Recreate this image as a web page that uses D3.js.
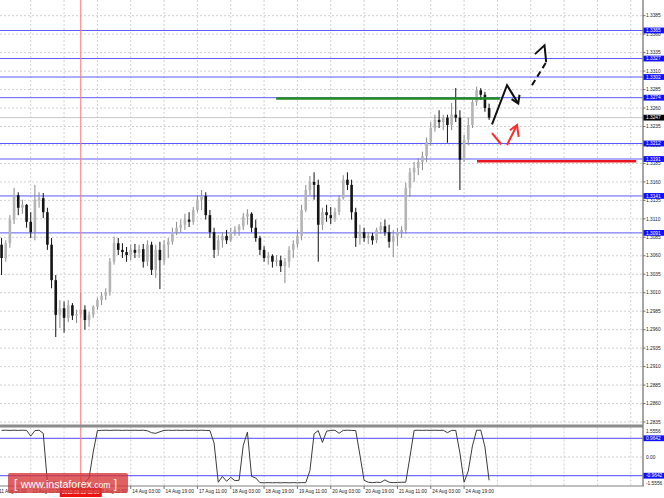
<!DOCTYPE html>
<html><head><meta charset="utf-8">
<script src="https://cdn.jsdelivr.net/npm/d3@7"></script>
<style>html,body{margin:0;padding:0;background:#fff;overflow:hidden}</style>
</head><body>
<svg id="c" width="664" height="498"></svg>
<script>
// ---- data ----
const barOpen = [1.3075,1.3057,1.3077,1.3109,1.3142,1.3125,1.3129,1.3106,1.3092,1.3136,
1.3138,1.3119,1.3075,1.3027,1.2980,1.2989,1.2976,1.2993,1.2979,1.2981,
1.2987,1.2973,1.2980,1.2991,1.3000,1.3006,1.3011,1.3052,1.3077,1.3068,
1.3065,1.3061,1.3068,1.3064,1.3069,1.3052,1.3075,1.3041,1.3068,1.3054,
1.3075,1.3079,1.3092,1.3098,1.3102,1.3109,1.3106,1.3122,1.3136,1.3141,
1.3115,1.3092,1.3068,1.3081,1.3087,1.3081,1.3092,1.3095,1.3100,1.3113,
1.3117,1.3098,1.3084,1.3068,1.3057,1.3060,1.3052,1.3054,1.3046,1.3052,
1.3068,1.3076,1.3087,1.3122,1.3149,1.3160,1.3156,1.3102,1.3119,1.3115,
1.3111,1.3119,1.3138,1.3163,1.3156,1.3119,1.3084,1.3092,1.3084,1.3087,
1.3081,1.3095,1.3100,1.3092,1.3079,1.3087,1.3092,1.3095,1.3152,1.3173,
1.3179,1.3187,1.3195,1.3214,1.3233,1.3244,1.3241,1.3247,1.3237,1.3251,
1.3247,1.3190,1.3217,1.3237,1.3268,1.3284,1.3278,1.3260];
const barHigh = [1.3084,1.3081,1.3115,1.3152,1.3146,1.3136,1.3130,1.3119,1.3156,1.3146,
1.3145,1.3125,1.3084,1.3034,1.3000,1.2998,1.3000,1.2996,1.2987,1.3010,
1.2993,1.2984,1.2993,1.3003,1.3011,1.3016,1.3057,1.3086,1.3084,1.3077,
1.3072,1.3075,1.3076,1.3075,1.3076,1.3081,1.3079,1.3075,1.3079,1.3081,
1.3084,1.3098,1.3106,1.3109,1.3117,1.3119,1.3126,1.3142,1.3149,1.3146,
1.3122,1.3098,1.3088,1.3092,1.3095,1.3098,1.3100,1.3103,1.3118,1.3123,
1.3119,1.3109,1.3087,1.3073,1.3065,1.3062,1.3061,1.3060,1.3057,1.3073,
1.3081,1.3095,1.3129,1.3156,1.3168,1.3173,1.3163,1.3125,1.3129,1.3126,
1.3125,1.3142,1.3169,1.3173,1.3163,1.3125,1.3102,1.3098,1.3092,1.3091,
1.3098,1.3106,1.3109,1.3102,1.3095,1.3098,1.3100,1.3159,1.3179,1.3187,
1.3192,1.3201,1.3220,1.3241,1.3251,1.3257,1.3251,1.3251,1.3267,1.3287,
1.3257,1.3224,1.3247,1.3271,1.3289,1.3287,1.3282,1.3266];
const barLow = [1.3034,1.3052,1.3071,1.3103,1.3115,1.3117,1.3098,1.3084,1.3081,1.3125,
1.3111,1.3068,1.3016,1.2950,1.2962,1.2956,1.2970,1.2973,1.2969,1.2976,
1.2960,1.2964,1.2976,1.2987,1.2993,1.3000,1.3006,1.3048,1.3061,1.3057,
1.3052,1.3054,1.3057,1.3057,1.3044,1.3046,1.3034,1.3030,1.3015,1.3048,
1.3057,1.3075,1.3088,1.3092,1.3095,1.3099,1.3102,1.3119,1.3122,1.3109,
1.3084,1.3057,1.3060,1.3071,1.3076,1.3079,1.3087,1.3087,1.3095,1.3102,
1.3092,1.3079,1.3061,1.3052,1.3048,1.3044,1.3046,1.3038,1.3023,1.3044,
1.3057,1.3071,1.3081,1.3119,1.3142,1.3136,1.3052,1.3095,1.3106,1.3103,
1.3106,1.3115,1.3136,1.3149,1.3109,1.3072,1.3075,1.3079,1.3076,1.3075,
1.3077,1.3090,1.3087,1.3071,1.3058,1.3073,1.3084,1.3090,1.3140,1.3160,
1.3169,1.3176,1.3187,1.3209,1.3228,1.3233,1.3230,1.3213,1.3230,1.3241,
1.3149,1.3187,1.3210,1.3233,1.3263,1.3271,1.3255,1.3244];
const barClose = [1.3057,1.3077,1.3109,1.3142,1.3125,1.3129,1.3106,1.3092,1.3136,1.3138,
1.3119,1.3075,1.3027,1.2980,1.2989,1.2976,1.2993,1.2979,1.2981,1.2987,
1.2973,1.2980,1.2991,1.3000,1.3006,1.3011,1.3052,1.3077,1.3068,1.3065,
1.3061,1.3068,1.3064,1.3069,1.3052,1.3075,1.3041,1.3068,1.3054,1.3075,
1.3079,1.3092,1.3098,1.3102,1.3109,1.3106,1.3122,1.3136,1.3141,1.3115,
1.3092,1.3068,1.3081,1.3087,1.3081,1.3092,1.3095,1.3100,1.3113,1.3117,
1.3098,1.3084,1.3068,1.3057,1.3060,1.3052,1.3054,1.3046,1.3052,1.3068,
1.3076,1.3087,1.3122,1.3149,1.3160,1.3156,1.3102,1.3119,1.3115,1.3111,
1.3119,1.3138,1.3163,1.3156,1.3119,1.3084,1.3092,1.3084,1.3087,1.3081,
1.3095,1.3100,1.3092,1.3079,1.3087,1.3092,1.3095,1.3152,1.3173,1.3179,
1.3187,1.3195,1.3214,1.3233,1.3244,1.3241,1.3247,1.3237,1.3251,1.3247,
1.3190,1.3217,1.3237,1.3268,1.3284,1.3278,1.3260,1.3247];
const oscValues = [1.37,1.38,1.37,1.38,1.37,1.38,1.37,1.08,1.36,1.38,
1.22,-1.30,-1.32,-1.28,-1.32,-1.30,-1.32,-1.29,-1.32,-1.30,
-1.32,-1.08,0.26,1.36,1.37,1.38,1.37,1.38,1.38,1.37,
1.38,1.37,1.38,1.37,1.38,1.35,1.25,1.22,1.30,1.37,
1.38,1.37,1.38,1.37,1.38,1.37,1.38,1.37,1.38,1.37,
1.36,0.72,-1.30,-1.00,-1.25,-1.05,-1.22,-1.20,0.60,1.28,
-1.00,-1.08,-1.32,-1.33,-1.32,-1.33,-1.32,-1.33,-1.32,-1.33,
-1.32,-1.33,-1.32,-1.32,-0.70,1.20,1.36,0.75,1.33,1.37,
1.38,1.22,1.37,1.38,1.37,1.36,0.10,-1.20,-1.30,-1.32,
-1.30,-1.31,-1.18,-1.30,-1.32,-1.31,-1.30,-1.30,0.00,1.37,
1.38,1.37,1.38,1.37,1.38,1.37,1.38,1.25,1.37,1.37,
0.20,-1.30,-0.72,0.57,1.38,1.38,0.52,-1.20];

const priceTicks = [1.3385,1.3360,1.3335,1.3310,1.3285,1.3260,1.3235,1.3210,1.3185,1.3160,
1.3135,1.3110,1.3085,1.3060,1.3035,1.3010,1.2985,1.2960,1.2935,1.2910,1.2885,1.2860,1.2835];
const timeLabels = ["11 Aug 11:00","12 Aug 03:00","12 Aug 19:00","13 Aug 11:00","14 Aug 03:00",
"14 Aug 19:00","17 Aug 11:00","18 Aug 03:00","18 Aug 19:00","19 Aug 11:00","20 Aug 03:00",
"20 Aug 19:00","21 Aug 11:00","24 Aug 03:00","24 Aug 19:00"];
const levelPrices = [1.3365,1.3327,1.3302,1.3274,1.3212,1.3191,1.3141,1.3091];
const levelLabels = ["1.3365","1.3327","1.3302","1.3274","1.3212","1.3191","1.3141","1.3091"];
const lastPrice = [1.3247];
const oscLevels = [0.9642,-0.9642];
const oscLevelLabels = ["0.9642","-0.9642"];
const oscTicks = [1.5556,0,-1.5556];
const oscTickLabels = ["1.5556","0.00","-1.5556"];
const crosshairBar = [19.0];
const crosshairText = ["2015.08.12 03:00"];
// hand-drawn annotations: [bar index, price]
const greenSegment = [[65.9,1.3273],[119.6,1.3273]];
const redSegment = [[114.1,1.3188],[152.3,1.3188]];
const blackSolid = [[117.7,1.3238],[121.3,1.3291],[124.0,1.3266]];
const blackSolidHead = [[122.4,1.3272],[124.0,1.3266],[124.3,1.3278]];
const blackDashed = [[127.3,1.3291],[130.7,1.3322]];
const blackDashedHead = [[128.0,1.3333],[130.3,1.3345],[130.7,1.3322]];
const redDash = [[117.7,1.3226],[119.9,1.3211]];
const redArrow = [[121.3,1.3210],[123.7,1.3237]];
const redArrowHead = [[122.0,1.3230],[123.7,1.3237],[124.1,1.3221]];

// ---- layout ----
const svg = d3.select("#c");
const font = "Liberation Sans, Arial, sans-serif";
const plotRight = 643, mainBottom = 424.5, oscTop = 427.5, oscBottom = 486;
const n = barClose.length;
const x = d3.scaleLinear().domain([0, n-1]).range([1.57, 489.1]);
const y = d3.scaleLinear().domain([1.2835, 1.3385]).range([422, 15.7]);
const yo = d3.scaleLinear().domain([-1.5556, 1.5556]).range([487.2, 426.8]);

svg.append("rect").attr("width",664).attr("height",498).attr("fill","#fff");
const defs = svg.append("defs");
defs.append("clipPath").attr("id","cm").append("rect").attr("x",0).attr("y",0).attr("width",plotRight).attr("height",mainBottom);
defs.append("clipPath").attr("id","co").append("rect").attr("x",0).attr("y",oscTop).attr("width",plotRight).attr("height",oscBottom-oscTop);

const gridBars = d3.range(-1, 200, 8).filter(b => x(b) < plotRight);
const grid = svg.append("g").attr("stroke","#c4c4c4").attr("stroke-width",0.8).attr("stroke-dasharray","2,2");
gridBars.forEach(b => {
  grid.append("line").attr("x1",x(b)).attr("x2",x(b)).attr("y1",0).attr("y2",mainBottom);
  grid.append("line").attr("x1",x(b)).attr("x2",x(b)).attr("y1",oscTop).attr("y2",oscBottom);
});
priceTicks.forEach(p => grid.append("line").attr("x1",0).attr("x2",plotRight).attr("y1",y(p)).attr("y2",y(p)));
grid.append("line").attr("x1",0).attr("x2",plotRight).attr("y1",yo(0)).attr("y2",yo(0));

const main = svg.append("g").attr("clip-path","url(#cm)");
// levels
main.selectAll("line.lvl").data(levelPrices).join("line").attr("class","lvl")
  .attr("x1",0).attr("x2",plotRight).attr("y1",d=>y(d)).attr("y2",d=>y(d))
  .attr("stroke","#5a5aff").attr("stroke-width",1);
main.append("line").attr("x1",0).attr("x2",plotRight).attr("y1",y(lastPrice[0])).attr("y2",y(lastPrice[0]))
  .attr("stroke","#c8c8c8").attr("stroke-width",1);

// candles
const idx = d3.range(n);
main.selectAll("line.wick").data(idx).join("line").attr("class","wick")
  .attr("x1",i=>x(i)).attr("x2",i=>x(i)).attr("y1",i=>y(barHigh[i])).attr("y2",i=>y(barLow[i]))
  .attr("stroke",i=>barClose[i]>=barOpen[i]?"#8a8a8a":"#111").attr("stroke-width",1);
main.selectAll("rect.body").data(idx).join("rect").attr("class","body")
  .attr("x",i=>x(i)-1.3).attr("width",2.6)
  .attr("y",i=>y(Math.max(barOpen[i],barClose[i])))
  .attr("height",i=>Math.max(1,Math.abs(y(barOpen[i])-y(barClose[i]))))
  .attr("fill",i=>barClose[i]>=barOpen[i]?"#b4b4b4":"#141414");

// annotations
const lineGen = d3.line().x(d=>x(d[0])).y(d=>y(d[1]));
main.append("path").attr("d",lineGen(greenSegment)).attr("stroke","#228b22").attr("stroke-width",2.6).attr("fill","none");
main.append("path").attr("d",lineGen(redSegment)).attr("stroke","#e8141e").attr("stroke-width",2.6).attr("fill","none");
[blackSolid, blackSolidHead].forEach(p => main.append("path").attr("d",lineGen(p)).attr("stroke","#111").attr("stroke-width",2).attr("fill","none"));
main.append("path").attr("d",lineGen(blackDashed)).attr("stroke","#111").attr("stroke-width",2).attr("stroke-dasharray","6,4").attr("fill","none");
main.append("path").attr("d",lineGen(blackDashedHead)).attr("stroke","#111").attr("stroke-width",2).attr("fill","none");
[redDash, redArrow, redArrowHead].forEach(p => main.append("path").attr("d",lineGen(p)).attr("stroke","#ff2a2a").attr("stroke-width",2).attr("fill","none"));

// oscillator
const osc = svg.append("g").attr("clip-path","url(#co)");
oscLevels.forEach(v => osc.append("line").attr("x1",0).attr("x2",plotRight).attr("y1",yo(v)).attr("y2",yo(v)).attr("stroke","#4a4aff").attr("stroke-width",1));
osc.append("path").attr("d", d3.line().x((d,i)=>x(i)).y(d=>yo(d))(oscValues))
  .attr("fill","none").attr("stroke","#3c3c3c").attr("stroke-width",1);

// crosshair
const cx = x(crosshairBar[0]);
svg.append("line").attr("x1",cx).attr("x2",cx).attr("y1",0).attr("y2",oscBottom).attr("stroke","#ff7a7a").attr("stroke-width",1);

// frame
svg.append("rect").attr("x",0).attr("y",mainBottom).attr("width",plotRight).attr("height",oscTop-mainBottom).attr("fill","#8c8c8c");
svg.append("line").attr("x1",0).attr("x2",plotRight+1).attr("y1",oscBottom).attr("y2",oscBottom).attr("stroke","#808080").attr("stroke-width",1);
svg.append("line").attr("x1",plotRight).attr("x2",plotRight).attr("y1",0).attr("y2",oscBottom).attr("stroke","#808080").attr("stroke-width",1.4);

// right axis
const ax = svg.append("g").attr("font-family",font).attr("font-size",4.8);
priceTicks.forEach(p => {
  ax.append("line").attr("x1",plotRight).attr("x2",plotRight+2.5).attr("y1",y(p)).attr("y2",y(p)).attr("stroke","#555").attr("stroke-width",0.8);
  ax.append("text").attr("x",plotRight+3).attr("y",y(p)).attr("dy","0.35em").attr("fill","#222").text(p.toFixed(4));
});
function boxLabel(yy, txt, fill){
  ax.append("rect").attr("x",plotRight+0.5).attr("y",yy-2.9).attr("width",20.5).attr("height",5.8).attr("fill",fill);
  ax.append("text").attr("x",plotRight+3).attr("y",yy).attr("dy","0.35em").attr("fill","#fff").text(txt);
}
levelPrices.forEach((p,i)=>boxLabel(y(p), levelLabels[i], "#1010ff"));
boxLabel(y(lastPrice[0]), lastPrice[0].toFixed(4), "#000");
oscTicks.forEach((v,i) => {
  const yy = yo(v) + (v>0 ? 4.2 : v<0 ? -4.2 : 0);
  ax.append("text").attr("x",plotRight+3).attr("y",yy).attr("dy","0.35em").attr("fill","#222").text(oscTickLabels[i]);
});
oscLevels.forEach((v,i)=>boxLabel(yo(v), oscLevelLabels[i], "#1010ff"));

// time axis
const tx = svg.append("g").attr("font-family",font).attr("font-size",4.8).attr("fill","#222");
timeLabels.forEach((t,k) => {
  const xx = x(gridBars[k]);
  tx.append("line").attr("x1",xx).attr("x2",xx).attr("y1",oscBottom).attr("y2",oscBottom+3).attr("stroke","#555").attr("stroke-width",0.8);
  tx.append("text").attr("x",xx+1.5).attr("y",493.3).text(t);
});
svg.append("rect").attr("x",cx-21).attr("y",487).attr("width",42).attr("height",10).attr("fill","#ee1111");
svg.append("text").attr("x",cx).attr("y",493.6).attr("text-anchor","middle").attr("font-family",font)
  .attr("font-size",4.8).attr("fill","#fff").text(crosshairText[0]);

// watermark
const wm = svg.append("g");
wm.append("rect").attr("x",8).attr("y",473).attr("width",120).attr("height",20).attr("rx",2).attr("fill","rgba(214,52,52,0.78)");
const wt = wm.append("text").attr("x",14).attr("y",488).attr("font-family",font).attr("fill","#fff");
wt.append("tspan").attr("font-size",12).text("[ ");
wt.append("tspan").attr("font-size",10.6).text("www.instaforex");
wt.append("tspan").attr("font-size",8.5).text(".com");
wt.append("tspan").attr("font-size",12).text(" ]");
</script>
</body></html>
